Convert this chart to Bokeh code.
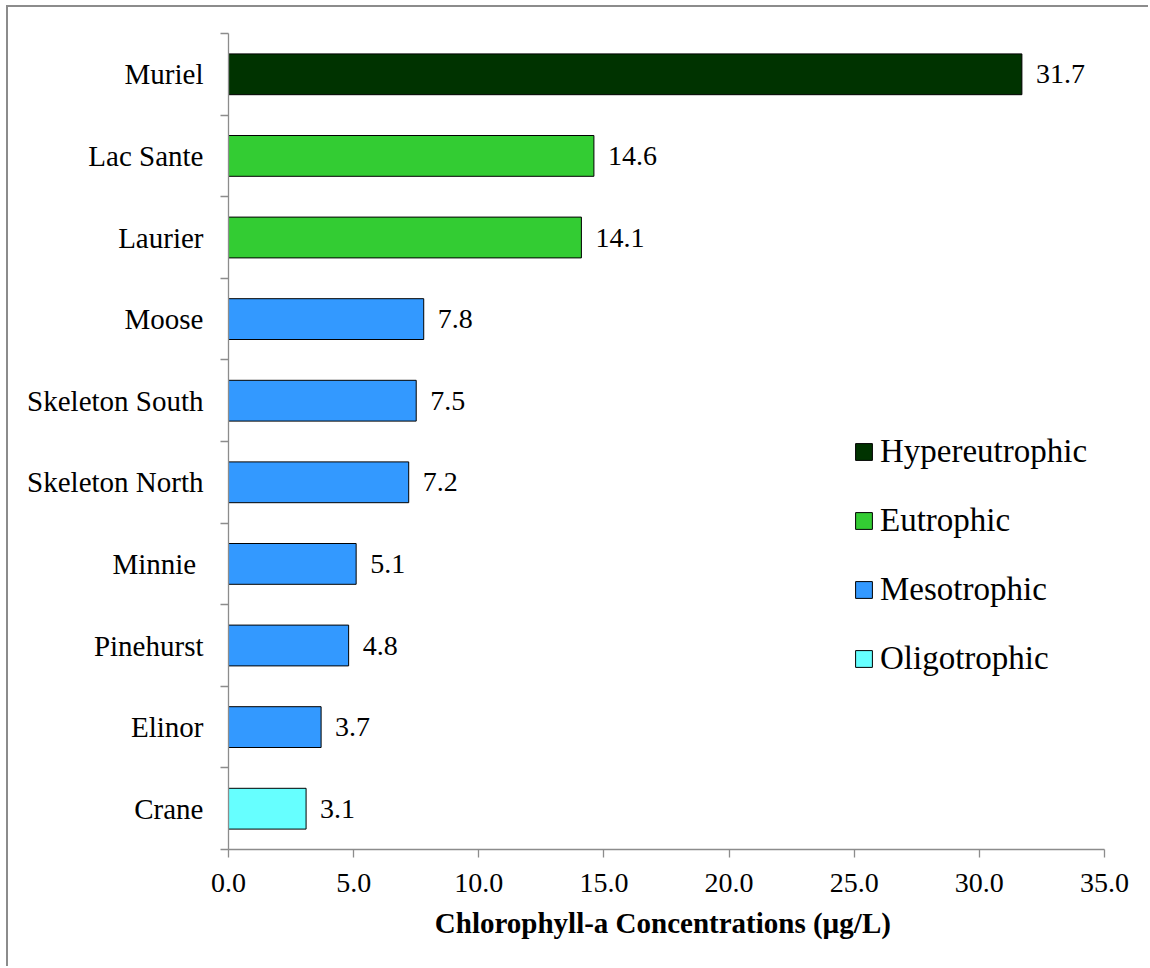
from bokeh.plotting import figure
from bokeh.models import (ColumnDataSource, FixedTicker, NumeralTickFormatter,
                          LabelSet, Legend, LegendItem)
from bokeh.embed import file_html
from bokeh.resources import INLINE

# Lakes in display order (top to bottom) with mean chlorophyll-a
lakes = ["Muriel", "Lac Sante", "Laurier", "Moose", "Skeleton South",
         "Skeleton North", "Minnie ", "Pinehurst", "Elinor", "Crane"]
chla = [31.7, 14.6, 14.1, 7.8, 7.5, 7.2, 5.1, 4.8, 3.7, 3.1]
trophic = ["Hypereutrophic", "Eutrophic", "Eutrophic", "Mesotrophic", "Mesotrophic",
           "Mesotrophic", "Mesotrophic", "Mesotrophic", "Mesotrophic", "Oligotrophic"]

trophic_classes = ["Hypereutrophic", "Eutrophic", "Mesotrophic", "Oligotrophic"]
trophic_colors = ["#003300", "#33CC33", "#3399FF", "#66FFFF"]

x_ticks = [0, 5, 10, 15, 20, 25, 30, 35]

FONT = "Liberation Serif"
AXIS_GREY = "#8c8c8c"

n = len(lakes)
ypos = [n - 0.5 - i for i in range(n)]
color_of = dict(zip(trophic_classes, trophic_colors))

source = ColumnDataSource(dict(
    lake=lakes,
    y=ypos,
    chla=chla,
    label=[f"{v:.1f}" for v in chla],
    color=[color_of[t] for t in trophic],
))

p = figure(width=1142, height=961, x_range=(0, 35), y_range=(0, n),
           output_backend="svg", toolbar_location=None,
           min_border_left=220, min_border_right=46,
           min_border_top=26, min_border_bottom=119)
p.outline_line_color = None
p.xgrid.visible = False
p.ygrid.visible = False
p.background_fill_color = "white"
p.border_fill_color = "white"
# grey frame round the chart area
p.margin = (5, 0, 0, 6)
p.styles = {"border-top": "2px solid #8c8c8c", "border-left": "2px solid #8c8c8c"}

bars = p.hbar(y="y", left=0, right="chla", height=0.5, source=source,
              fill_color="color", line_color="black", line_width=1)

labels = LabelSet(x="chla", y="y", text="label", source=source,
                  x_offset=14, text_baseline="middle", text_align="left",
                  text_font=FONT, text_font_size="28px", text_color="black")
p.add_layout(labels)

# x axis
xa = p.xaxis[0]
xa.ticker = FixedTicker(ticks=x_ticks)
xa.formatter = NumeralTickFormatter(format="0.0")
xa.axis_line_color = AXIS_GREY
xa.axis_line_width = 1.3
xa.major_tick_line_color = AXIS_GREY
xa.major_tick_line_width = 1.3
xa.major_tick_in = 0
xa.major_tick_out = 8
xa.minor_tick_line_color = None
xa.major_label_text_font = FONT
xa.major_label_text_font_size = "28px"
xa.major_label_text_color = "black"
xa.major_label_standoff = 16
xa.axis_label = "Chlorophyll-a  Concentrations (µg/L)"
xa.axis_label_text_font = FONT
xa.axis_label_text_font_size = "29px"
xa.axis_label_text_font_style = "bold"
xa.axis_label_text_color = "black"
xa.axis_label_standoff = 12

# y axis: names at band centres, tick marks at band boundaries
ya = p.yaxis[0]
ya.ticker = FixedTicker(ticks=ypos, minor_ticks=list(range(n + 1)))
ya.major_label_overrides = {y: name for y, name in zip(ypos, lakes)}
ya.axis_line_color = AXIS_GREY
ya.axis_line_width = 1.3
ya.major_tick_line_color = None
ya.major_tick_in = 0
ya.major_tick_out = 0
ya.minor_tick_line_color = AXIS_GREY
ya.minor_tick_line_width = 1.3
ya.minor_tick_in = 0
ya.minor_tick_out = 8
ya.major_label_text_font = FONT
ya.major_label_text_font_size = "29px"
ya.major_label_text_color = "black"
ya.major_label_standoff = 17

# legend: one entry per trophic class, using the first lake in that class
items = []
for cls in trophic_classes:
    idx = trophic.index(cls)
    items.append(LegendItem(label=cls, renderers=[bars], index=idx))
legend = Legend(items=items, location=(625, 172),
                glyph_width=21, glyph_height=21, label_standoff=6,
                label_text_font=FONT, label_text_font_size="33px",
                label_text_color="black", label_height=38, spacing=31,
                padding=0, margin=0,
                border_line_alpha=0, background_fill_alpha=0)
p.add_layout(legend)

with open("out.html", "w") as f:
    f.write(file_html(p, INLINE))
